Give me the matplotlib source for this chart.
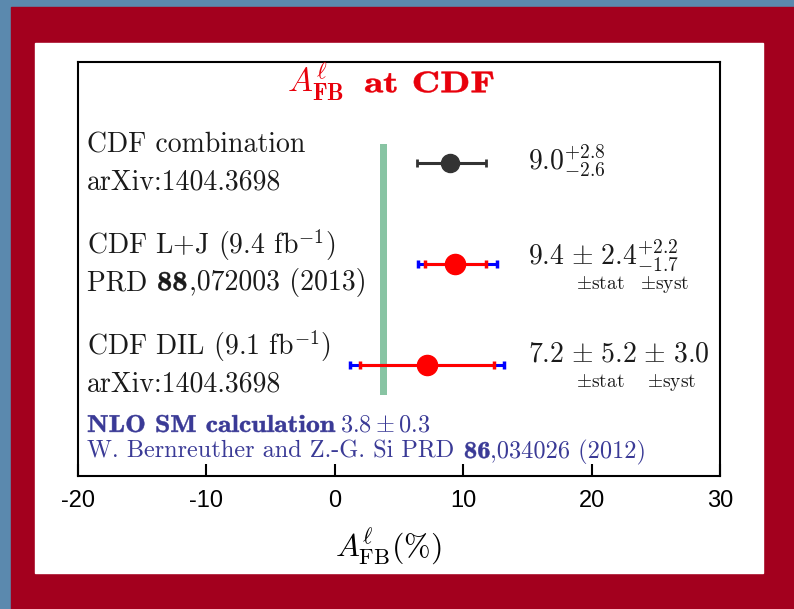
import matplotlib
matplotlib.use("Agg")
import matplotlib.pyplot as plt
from matplotlib.patches import Rectangle, PathPatch
from matplotlib.textpath import TextPath
from matplotlib.font_manager import FontProperties
from matplotlib.transforms import Affine2D, ScaledTranslation

plt.rcParams["mathtext.fontset"] = "cm"

# data
rows = [3, 2, 1]
label_top = ["CDF combination",
             "CDF L+J (9.4 fb$^{-1}$)",
             "CDF DIL (9.1 fb$^{-1}$)"]
label_bottom = ["arXiv:1404.3698", "PRD ", "arXiv:1404.3698"]
central = [9.0, 9.4, 7.2]
stat_lo = [2.6, 2.4, 5.2]
stat_hi = [2.8, 2.4, 5.2]
syst_lo = [0.0, 1.7, 3.0]
syst_hi = [0.0, 2.2, 3.0]
value_text = [r"$9.0^{+2.8}_{-2.6}$",
              r"$9.4\hspace{0.12}\pm\hspace{0.12}2.4^{+2.2}_{-1.7}$",
              r"$7.2\hspace{0.12}\pm\hspace{0.12}5.2\hspace{0.12}\pm\hspace{0.12}3.0$"]
sm_value = 3.8
sm_err = 0.3
xticks = [-20, -10, 0, 10, 20, 30]
xtick_labels = ["-20", "-10", "0", "10", "20", "30"]

TXT = "#1a1a1a"
BLUE_TXT = "#3a3a96"


def bold_text(ax, x, y, s, size, color, stretch=1.2):
    # wide bold serif (like cmbx) drawn as a stretched cmb10 path, x/y in axes coords
    path = TextPath((0, 0), s, size=size, prop=FontProperties(family="cmb10"))
    k = ax.figure.dpi / 72
    tr = Affine2D().scale(stretch * k, k) + ScaledTranslation(x, y, ax.transAxes)
    ax.add_artist(PathPatch(path, transform=tr, facecolor=color, edgecolor=color,
                            lw=0.35, clip_on=False))


fig = plt.figure(figsize=(7.94, 6.09), dpi=100)
fig.patch.set_facecolor("#5b89ae")

# frame: red border and white panel
fig.patches.append(Rectangle((11 / 794, 0), 1, 602 / 609, transform=fig.transFigure,
                             color="#a3001e", zorder=-10))
fig.patches.append(Rectangle((35 / 794, 36 / 609), 728 / 794, 530 / 609,
                             transform=fig.transFigure, color="white", zorder=-9))

ax = fig.add_axes([78 / 794, 133 / 609, 642 / 794, 414 / 609])

# SM prediction band
ax.fill_betweenx([0.70, 3.19], sm_value - sm_err, sm_value + sm_err,
                 color="#88c4a3", lw=0, zorder=1)

for i, y in enumerate(rows):
    x = central[i]
    if syst_lo[i] == 0 and syst_hi[i] == 0:
        ax.errorbar([x], [y], xerr=[[stat_lo[i]], [stat_hi[i]]], fmt="o",
                    color="#333333", ms=13, lw=2.2, capsize=3, capthick=2, zorder=3)
    else:
        tot_lo = (stat_lo[i] ** 2 + syst_lo[i] ** 2) ** 0.5
        tot_hi = (stat_hi[i] ** 2 + syst_hi[i] ** 2) ** 0.5
        ax.errorbar([x], [y], xerr=[[tot_lo], [tot_hi]], fmt="none",
                    ecolor="#0000ff", lw=2.2, capsize=3, capthick=2.5, zorder=2)
        ax.errorbar([x], [y], xerr=[[stat_lo[i]], [stat_hi[i]]], fmt="o",
                    color="#ff0000", ecolor="#ff0000", ms=14.5, lw=2.2,
                    capsize=3, capthick=2.5, zorder=3)

ax.set_xlim(-20, 30)
ax.set_ylim(-0.1, 4.0)

# labels
tr = ax.get_yaxis_transform()
val_dy = [-0.07, -0.01, 0.03]
for i, y in enumerate(rows):
    ax.text(0.014, y + 0.10, label_top[i], transform=tr, family="cmr10",
            fontsize=20, color=TXT, va="baseline")
    ax.text(0.014, y - 0.26, label_bottom[i], transform=tr, family="cmr10",
            fontsize=20, color=TXT, va="baseline")
    ax.text(0.701, y + val_dy[i], value_text[i], transform=tr,
            fontsize=20, color=TXT, va="baseline")

# "PRD 88,072003 (2013)" with a bold volume number
y2 = (2 - 0.26 + 0.1) / 4.1
bold_text(ax, 0.123, y2, "88", 20, TXT, stretch=1.1)
ax.text(0.173, y2, ",072003 (2013)", transform=ax.transAxes, family="cmr10",
        fontsize=20, color=TXT, va="baseline")

ax.text(0.813, 2 - 0.25, r"$\pm$stat", transform=tr, family="cmr10",
        fontsize=14, ha="center", va="baseline", color=TXT)
ax.text(0.913, 2 - 0.25, r"$\pm$syst", transform=tr, family="cmr10",
        fontsize=14, ha="center", va="baseline", color=TXT)
ax.text(0.813, 1 - 0.22, r"$\pm$stat", transform=tr, family="cmr10",
        fontsize=14, ha="center", va="baseline", color=TXT)
ax.text(0.924, 1 - 0.22, r"$\pm$syst", transform=tr, family="cmr10",
        fontsize=14, ha="center", va="baseline", color=TXT)

# SM reference text
bold_text(ax, 0.014, 0.1065, "NLO SM calculation", 17.5, BLUE_TXT, stretch=1.135)
ax.text(0.408, 0.1065, r"$3.8 \pm 0.3$", transform=ax.transAxes,
        fontsize=17.5, color=BLUE_TXT, va="baseline")
ax.text(0.014, 0.0436, "W. Bernreuther and Z.-G. Si PRD", transform=ax.transAxes,
        family="cmr10", fontsize=17.5, color=BLUE_TXT, va="baseline")
bold_text(ax, 0.601, 0.0436, "86", 17.5, BLUE_TXT, stretch=1.1)
ax.text(0.6425, 0.0436, ",034026 (2012)", transform=ax.transAxes,
        family="cmr10", fontsize=17.5, color=BLUE_TXT, va="baseline")

# title
ax.text(0.3255, 0.927, r"$A^{\ell}_{\mathbf{FB}}$", transform=ax.transAxes,
        fontsize=24, color="#e8000b", va="baseline")
bold_text(ax, 0.4455, 0.927, "at CDF", 21.5, "#e8000b", stretch=1.32)

# axes styling
ax.set_xticks(xticks)
ax.set_xticklabels(xtick_labels, family="Liberation Sans", fontsize=17)
ax.set_yticks([])
ax.tick_params(axis="x", direction="in", length=8.5, width=1.5, pad=10,
               top=False)
for s in ax.spines.values():
    s.set_linewidth(1.5)

ax.set_xlabel(r"$A^{\ell}_{\mathrm{FB}}(\%)$", fontsize=23)
ax.xaxis.set_label_coords(0.483, -0.12)

fig.savefig("out.png", dpi=100)
